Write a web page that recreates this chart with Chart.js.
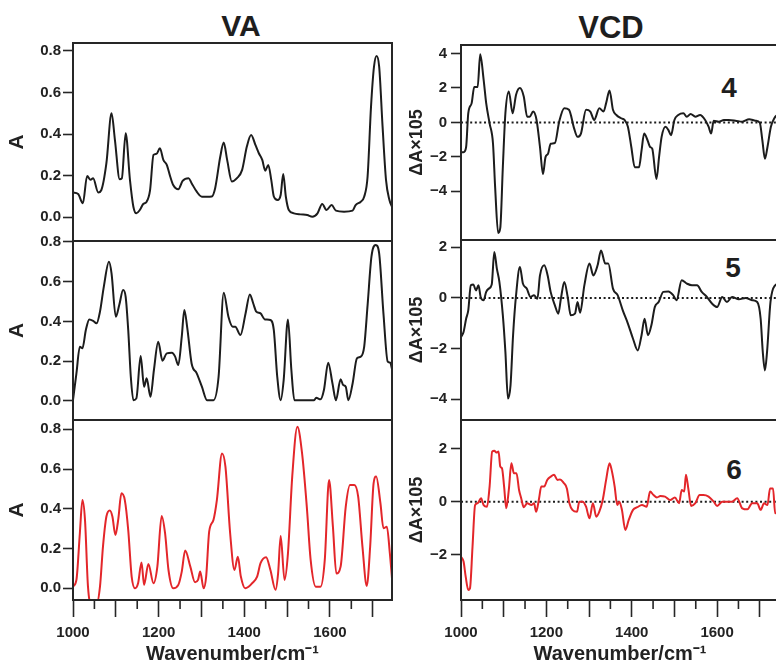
<!DOCTYPE html>
<html>
<head>
<meta charset="utf-8">
<script src="https://cdn.jsdelivr.net/npm/chart.js@4/dist/chart.umd.min.js"></script>
<style>
  html, body { margin: 0; padding: 0; background: #fff; overflow: hidden; }
  #wrap { position: relative; width: 776px; height: 663px; overflow: hidden; background: #fff; }
  #wrap canvas { position: absolute; left: 0; top: 0; }
  .lbl { position: absolute; font-family: "Liberation Sans", Arial, sans-serif; font-weight: bold;
         color: #1e1e1e; line-height: 1; transform: translate(-50%, -50%); white-space: nowrap; }
</style>
</head>
<body>
<div id="wrap">
  <div class="lbl" style="left:241px;top:26px;font-size:30px;">VA</div>
  <div class="lbl" style="left:611px;top:27px;font-size:31px;">VCD</div>
  <div class="lbl" style="left:729px;top:88px;font-size:28px;">4</div>
  <div class="lbl" style="left:733px;top:268px;font-size:28px;">5</div>
  <div class="lbl" style="left:734px;top:470px;font-size:28px;">6</div>
</div>
<script>
// ---- wavenumber axis ----
const xMin = 1000, xMax = 1745;
const xMajorTicks = [1000, 1100, 1200, 1300, 1400, 1500, 1600, 1700];
const xMinorTicks = [1050, 1150, 1250, 1350, 1450, 1550, 1650];
const xLabelStep = 200;

// ---- y tick values ----
const vaTicks = [0, 0.2, 0.4, 0.6, 0.8];
const vcdTicks4 = [-4, -2, 0, 2, 4];
const vcdTicks5 = [-4, -2, 0, 2];
const vcdTicks6 = [-2, 0, 2];

// ---- VA spectrum, compound 4 ----
const wnVA4 = [1000,1012,1023,1033,1041,1047,1059,1066,1078,1090,1098,1109,1114,1123,1133,1141,1148,1156,1164,1172,1180,1188,1195,1203,1211,1219,1227,1234,1246,1256,1270,1277,1289,1301,1313,1324,1332,1344,1352,1360,1371,1383,1395,1406,1416,1426,1434,1442,1449,1456,1463,1469,1478,1485,1491,1497,1504,1516,1531,1547,1559,1571,1582,1592,1604,1614,1633,1653,1660,1672,1680,1688,1696,1703,1709,1715,1723,1731,1739,1745];
const absVA4 = [0.119,0.112,0.067,0.199,0.18,0.188,0.119,0.13,0.26,0.50,0.37,0.183,0.187,0.404,0.18,0.051,0.019,0.035,0.064,0.075,0.131,0.30,0.305,0.332,0.276,0.252,0.196,0.155,0.135,0.175,0.188,0.164,0.123,0.099,0.099,0.10,0.14,0.292,0.359,0.276,0.172,0.188,0.228,0.34,0.396,0.348,0.308,0.276,0.224,0.252,0.18,0.10,0.083,0.107,0.208,0.10,0.035,0.019,0.014,0.011,0.003,0.019,0.064,0.035,0.059,0.032,0.027,0.032,0.059,0.075,0.099,0.196,0.532,0.725,0.776,0.725,0.436,0.18,0.083,0.05];

// ---- VA spectrum, compound 5 ----
const wnVA5 = [1000,1008,1016,1022,1030,1038,1047,1055,1063,1072,1084,1090,1100,1108,1117,1123,1129,1135,1141,1148,1158,1166,1172,1181,1189,1199,1209,1219,1231,1238,1246,1254,1260,1267,1277,1289,1301,1313,1328,1340,1352,1363,1373,1379,1391,1403,1413,1421,1428,1438,1448,1461,1469,1477,1485,1492,1502,1510,1517,1563,1568,1578,1586,1596,1606,1614,1625,1631,1637,1643,1653,1663,1672,1680,1688,1697,1707,1715,1725,1735,1741,1745];
const absVA5 = [0.003,0.138,0.272,0.264,0.356,0.41,0.403,0.39,0.449,0.575,0.70,0.642,0.423,0.482,0.558,0.524,0.356,0.121,0.003,0.012,0.225,0.071,0.113,0.02,0.155,0.297,0.202,0.239,0.242,0.225,0.18,0.323,0.457,0.365,0.188,0.138,0.071,0.003,0.003,0.121,0.544,0.423,0.373,0.373,0.331,0.44,0.536,0.49,0.449,0.44,0.41,0.407,0.356,0.121,0.003,0.104,0.41,0.155,0.003,0.003,0.015,0.007,0.054,0.192,0.087,0.003,0.108,0.079,0.071,0.003,0.087,0.213,0.222,0.272,0.482,0.726,0.785,0.743,0.44,0.197,0.192,0.16];

// ---- VA spectrum, compound 6 ----
const wnVA6 = [1000,1008,1016,1022,1028,1035,1043,1055,1063,1070,1078,1086,1092,1099,1106,1113,1121,1129,1137,1145,1152,1160,1166,1176,1188,1197,1207,1215,1223,1234,1246,1254,1262,1274,1285,1292,1297,1305,1311,1318,1328,1336,1348,1356,1367,1377,1385,1392,1402,1410,1418,1430,1438,1451,1461,1473,1479,1485,1494,1502,1512,1524,1535,1546,1555,1567,1578,1588,1598,1607,1615,1625,1637,1647,1657,1666,1676,1686,1694,1702,1708,1718,1725,1733,1740,1745];
const absVA6 = [0.008,0.042,0.277,0.444,0.344,0.008,-0.08,-0.08,0.008,0.21,0.361,0.391,0.361,0.268,0.352,0.478,0.444,0.293,0.059,0.0,0.025,0.13,0.017,0.122,0.025,0.109,0.364,0.277,0.092,0.0,0.017,0.084,0.19,0.109,0.03,0.042,0.084,0.0,0.059,0.285,0.344,0.444,0.679,0.612,0.277,0.092,0.159,0.059,0.0,0.008,0.025,0.059,0.126,0.156,0.092,-0.008,0.075,0.263,0.042,0.176,0.562,0.813,0.679,0.411,0.143,0.008,0.008,0.143,0.545,0.31,0.075,0.109,0.411,0.52,0.52,0.461,0.21,0.012,0.21,0.528,0.562,0.428,0.302,0.31,0.176,0.05];

// ---- VCD spectrum, compound 4 ----
const wnVCD4 = [1000,1006,1012,1017,1025,1031,1039,1045,1053,1059,1067,1075,1080,1087,1092,1098,1104,1112,1121,1129,1138,1147,1155,1161,1169,1177,1185,1192,1198,1204,1210,1220,1230,1242,1253,1265,1273,1281,1293,1303,1312,1324,1334,1340,1348,1356,1364,1375,1383,1391,1399,1407,1417,1423,1429,1437,1443,1448,1458,1464,1470,1479,1486,1492,1500,1509,1521,1529,1538,1549,1560,1572,1580,1586,1592,1604,1616,1627,1643,1659,1675,1690,1700,1706,1712,1718,1726,1734,1742,1745];
const dA4 = [-1.73,-1.73,-1.43,0.53,1.12,2.06,2.06,3.96,2.49,1.12,-0.06,-1.24,-3.78,-6.43,-6.14,-2.61,0.53,1.80,0.53,1.61,2.0,1.51,0.33,0.33,0.63,0.14,-1.43,-3.0,-2.02,-1.82,-1.24,-1.2,0.04,0.82,0.73,-0.35,-0.84,-0.65,0.73,0.63,0.14,0.82,0.63,1.12,1.86,0.73,0.43,0.24,0.14,-0.25,-1.43,-2.61,-2.61,-1.63,-0.65,-1.04,-1.43,-1.53,-3.29,-2.02,-0.84,-0.25,-0.45,-0.75,0.14,0.43,0.53,0.33,0.49,0.33,0.43,0.14,-0.25,-0.65,0.1,0.04,0.14,0.14,0.1,0.04,0.18,0.1,-0.02,-1.04,-2.12,-1.43,-0.25,0.24,0.43,0.43];

// ---- VCD spectrum, compound 5 ----
const wnVCD5 = [1000,1006,1012,1017,1023,1029,1035,1041,1046,1053,1059,1065,1072,1078,1084,1090,1098,1104,1110,1116,1122,1129,1138,1145,1154,1163,1171,1179,1185,1195,1203,1210,1220,1228,1234,1242,1250,1257,1267,1273,1279,1289,1301,1310,1320,1328,1338,1345,1356,1367,1379,1391,1403,1414,1423,1430,1438,1446,1454,1463,1474,1486,1497,1505,1517,1529,1541,1553,1564,1576,1588,1600,1612,1623,1635,1651,1667,1682,1694,1702,1707,1712,1717,1725,1736,1745];
const dA5 = [-1.54,-1.34,-0.82,-0.49,0.5,0.53,0.3,0.5,0.04,-0.09,0.24,0.37,0.53,1.82,1.16,0.63,-0.68,-2.13,-3.97,-3.45,-1.47,0.11,1.22,0.57,0.37,0.04,0.11,-0.03,0.89,1.29,0.89,0.24,-0.29,-0.62,-0.03,0.63,0.04,-0.68,-0.62,-0.16,-0.58,0.5,1.36,0.89,1.29,1.88,1.36,1.36,0.37,0.11,-0.49,-1.01,-1.61,-2.07,-1.47,-0.82,-1.47,-1.08,-0.36,-0.16,0.24,0.26,0.11,-0.09,0.7,0.57,0.5,0.5,0.24,0.04,-0.22,-0.36,0.04,-0.16,0.04,-0.05,0,-0.09,-0.16,-0.82,-2.13,-2.86,-2.13,-0.16,0.5,0.57];

// ---- VCD spectrum, compound 6 ----
const wnVCD6 = [1000,1006,1011,1017,1021,1027,1033,1039,1047,1053,1061,1067,1073,1078,1083,1088,1092,1096,1101,1106,1112,1118,1124,1130,1136,1141,1147,1155,1165,1171,1176,1183,1188,1195,1202,1210,1218,1226,1232,1240,1248,1254,1261,1272,1277,1285,1293,1301,1309,1317,1324,1332,1340,1348,1353,1360,1366,1371,1377,1385,1393,1403,1413,1424,1435,1443,1451,1459,1467,1478,1490,1501,1511,1517,1523,1527,1533,1539,1549,1559,1568,1580,1592,1600,1612,1623,1635,1647,1659,1671,1682,1694,1702,1710,1718,1724,1731,1736,1745];
const dA6 = [-2.08,-2.26,-2.83,-3.33,-3.27,-1.70,-0.13,-0.06,0.13,-0.13,-0.19,0.57,1.89,1.92,1.85,1.89,1.32,1.26,0.57,-0.25,0.44,1.45,1.07,1.07,0.44,0.13,-0.21,-0.06,-0.13,-0.06,-0.38,0.13,0.57,0.57,0.82,0.94,1.01,0.82,0.84,0.72,0.50,-0.06,-0.31,-0.38,0,0,-0.19,-0.63,-0.06,-0.57,-0.38,0.06,0.82,1.45,1.19,0.57,-0.13,0,-0.31,-1.07,-0.69,-0.31,-0.21,-0.13,-0.19,0.38,0.25,0.16,0.21,0.19,0.06,0.16,-0.06,0.44,0.38,1.01,0.44,-0.16,-0.06,0.25,0.25,0.19,0,-0.16,0,0,0,0.13,-0.25,-0.29,-0.06,-0.06,-0.31,-0.06,-0.13,0.50,0.50,-0.44,-0.38];

// ---- drawing ----
const FONT = '"Liberation Sans", Arial, Helvetica, sans-serif';
Chart.defaults.font.family = FONT;
Chart.defaults.color = '#222';

const CW = 790, CH = 680;          // canvas size (slightly larger than the page)
const X_AXIS_H = 66;               // height of the bottom wavenumber axis
const BLACK = '#1c1c1c', RED = '#e3262a';

function pairs(xs, ys) { return xs.map((x, i) => ({ x: x, y: ys[i] })); }

const framePlugin = {
  id: 'frame',
  afterDraw(chart) {
    const a = chart.chartArea, ctx = chart.ctx;
    ctx.save();
    ctx.strokeStyle = '#262626';
    ctx.lineWidth = 2;
    ctx.strokeRect(a.left, a.top, a.right - a.left, a.bottom - a.top);
    if (chart.options.plugins.frame.minor) {
      const xs = chart.scales.x;
      ctx.lineWidth = 1.6;
      ctx.beginPath();
      xMinorTicks.forEach(v => {
        const px = xs.getPixelForValue(v);
        ctx.moveTo(px, a.bottom);
        ctx.lineTo(px, a.bottom + 9);
      });
      ctx.stroke();
    }
    ctx.restore();
  }
};

function panel(p) {
  const cv = document.createElement('canvas');
  cv.width = CW; cv.height = CH;
  document.getElementById('wrap').appendChild(cv);

  const datasets = [{
    data: pairs(p.wn, p.vals),
    borderColor: p.color,
    borderWidth: 2,
    pointRadius: 0,
    fill: false,
    cubicInterpolationMode: 'monotone',
    order: 1
  }];
  if (p.zeroLine) {
    datasets.push({
      data: [{ x: xMin, y: 0 }, { x: xMax, y: 0 }],
      borderColor: '#1c1c1c',
      borderWidth: 2,
      borderDash: [2, 2.6],
      pointRadius: 0,
      fill: false,
      order: 2
    });
  }

  const yTickFmt = p.signed
    ? (v) => (v < 0 ? '\u2212' + Math.abs(v) : String(v))
    : (v) => v.toFixed(1);
  const axisH = p.bottomAxis ? X_AXIS_H : 0;

  new Chart(cv.getContext('2d'), {
    type: 'line',
    data: { datasets: datasets },
    plugins: [framePlugin],
    options: {
      responsive: false,
      animation: false,
      events: [],
      layout: {
        padding: {
          left: p.colLeft,
          top: p.top,
          right: CW - p.right,
          bottom: CH - (p.bottom + axisH)
        }
      },
      plugins: {
        legend: { display: false },
        tooltip: { enabled: false },
        frame: { minor: !!p.bottomAxis }
      },
      scales: {
        x: {
          type: 'linear',
          min: xMin, max: xMax,
          display: !!p.bottomAxis,
          afterBuildTicks(s) { s.ticks = xMajorTicks.map(v => ({ value: v })); },
          afterFit(s) { s.height = axisH; s.paddingLeft = 0; s.paddingRight = 0; },
          border: { display: false },
          grid: { drawOnChartArea: false, drawTicks: true, tickLength: 17, tickWidth: 1.6, tickColor: '#262626' },
          ticks: {
            autoSkip: false, maxRotation: 0, padding: 7,
            font: { size: 15, weight: 'bold' }, color: '#222',
            callback: (v) => (v % xLabelStep === 0 ? String(v) : '')
          },
          title: {
            display: true, text: 'Wavenumber/cm\u207B\u00B9',
            font: { size: 20, weight: 'bold' }, color: '#222',
            padding: { top: 0, bottom: 0 }
          }
        },
        y: {
          type: 'linear',
          min: p.yMin, max: p.yMax,
          afterBuildTicks(s) { s.ticks = p.yTicks.map(v => ({ value: v })); },
          afterFit(s) { s.width = p.left - p.colLeft; s.paddingTop = 0; s.paddingBottom = 0; },
          border: { display: false },
          grid: { drawOnChartArea: false, drawTicks: true, tickLength: 10, tickWidth: 1.6, tickColor: '#262626' },
          ticks: {
            autoSkip: false, padding: p.tickPad,
            font: { size: 15, weight: 'bold' }, color: '#222',
            callback: yTickFmt
          },
          title: {
            display: true, text: p.yTitle,
            font: { size: p.yTitleSize, weight: 'bold' }, color: '#222',
            padding: { top: p.yTitlePad, bottom: 0 }
          }
        }
      }
    }
  });
}

// VA column
const vaCol = { colLeft: 0, left: 73, right: 392, color: BLACK, yTicks: vaTicks, signed: false,
                yTitle: 'A', yTitleSize: 21, yTitlePad: 5, tickPad: 2 };
panel(Object.assign({}, vaCol, { top: 43, bottom: 241, yMin: -0.114, yMax: 0.838, wn: wnVA4, vals: absVA4 }));
panel(Object.assign({}, vaCol, { top: 241, bottom: 420, yMin: -0.097, yMax: 0.805, wn: wnVA5, vals: absVA5 }));
panel(Object.assign({}, vaCol, { top: 420, bottom: 600, yMin: -0.059, yMax: 0.847, wn: wnVA6, vals: absVA6,
                                 color: RED, bottomAxis: true }));

// VCD column
const vcdCol = { colLeft: 400, left: 461, right: 779, color: BLACK, signed: true, zeroLine: true,
                 yTitle: '\u0394A\u00D7105', yTitleSize: 18, yTitlePad: 6, tickPad: 4 };
panel(Object.assign({}, vcdCol, { top: 45, bottom: 240, yMin: -6.84, yMax: 4.5, yTicks: vcdTicks4, wn: wnVCD4, vals: dA4 }));
panel(Object.assign({}, vcdCol, { top: 240, bottom: 420, yMin: -4.82, yMax: 2.29, yTicks: vcdTicks5, wn: wnVCD5, vals: dA5 }));
panel(Object.assign({}, vcdCol, { top: 420, bottom: 600, yMin: -3.71, yMax: 3.08, yTicks: vcdTicks6, wn: wnVCD6, vals: dA6,
                                  color: RED, bottomAxis: true }));
</script>
</body>
</html>
